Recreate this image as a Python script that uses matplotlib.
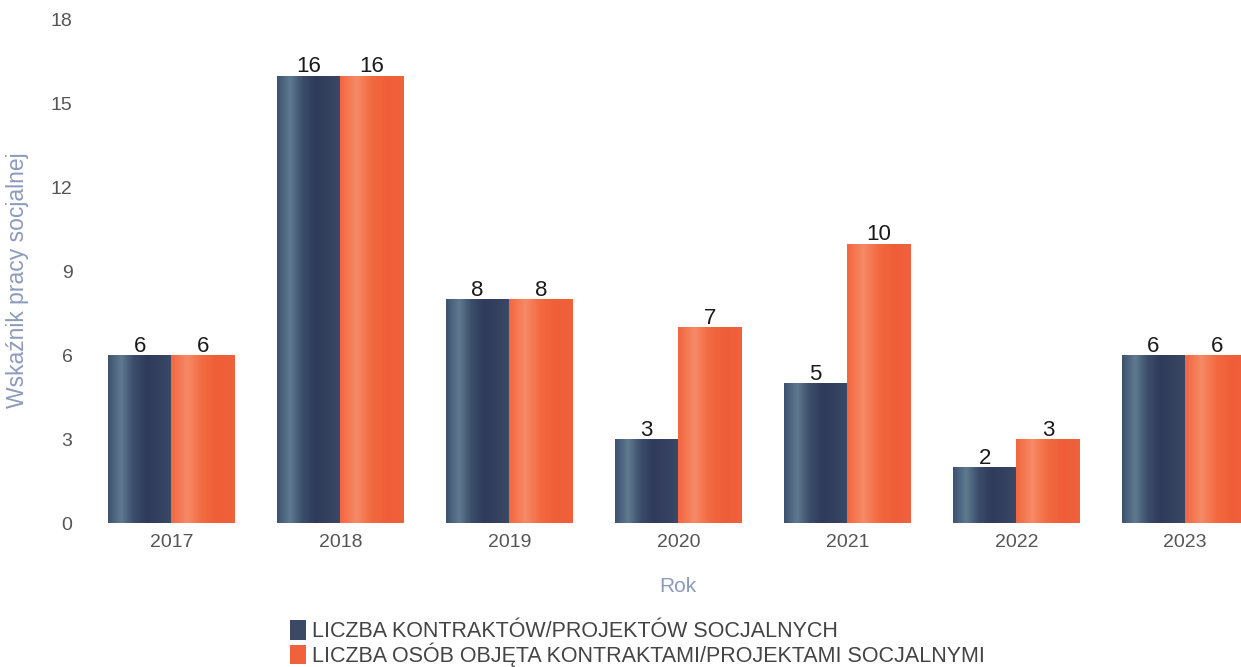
import matplotlib
matplotlib.use("Agg")
import matplotlib.pyplot as plt
import numpy as np
from matplotlib.colors import LinearSegmentedColormap
from matplotlib.patches import Patch

years = ["2017", "2018", "2019", "2020", "2021", "2022", "2023"]
kontrakty = [6, 16, 8, 3, 5, 2, 6]
osoby = [6, 16, 8, 7, 10, 3, 6]
series_names = ["LICZBA KONTRAKTÓW/PROJEKTÓW SOCJALNYCH",
                "LICZBA OSÓB OBJĘTA KONTRAKTAMI/PROJEKTAMI SOCJALNYMI"]
yticks = [0, 3, 6, 9, 12, 15, 18]

plt.rcParams['font.family'] = ['Liberation Sans', 'DejaVu Sans']

W, H = 1241, 667
fig = plt.figure(figsize=(W / 100, H / 100), dpi=100)
left_px, right_px, top_px, bottom_px = 92, 1241, 20, 523
ax = fig.add_axes([left_px / W, 1 - bottom_px / H, (right_px - left_px) / W, (bottom_px - top_px) / H])

dark = "#3a4a66"
orange = "#f1613c"
cmap_dark = LinearSegmentedColormap.from_list("d", ["#3d5270", "#5f7a90", "#3b4d6a", "#2f3b5a", "#34405e", "#3a4a66"])
cmap_or = LinearSegmentedColormap.from_list("o", ["#f2673f", "#f68a66", "#f26940", "#ef5e38", "#f0623c"])

x = np.arange(len(years))
w = 0.375
b1 = ax.bar(x - w / 2, kontrakty, w, color=dark, zorder=2)
b2 = ax.bar(x + w / 2, osoby, w, color=orange, zorder=2)

grad = np.linspace(0, 1, 100).reshape(1, -1)
for bars, cm in ((b1, cmap_dark), (b2, cmap_or)):
    for r in bars:
        x0, y0 = r.get_x(), r.get_y()
        im = ax.imshow(grad, cmap=cm, aspect='auto', extent=(x0, x0 + r.get_width(), y0, y0 + r.get_height()),
                       zorder=3)
        im.set_clip_path(r)

for bars, vals in ((b1, kontrakty), (b2, osoby)):
    for r, v in zip(bars, vals):
        ax.text(r.get_x() + r.get_width() / 2, v - 0.05, str(v), ha='center', va='bottom',
                fontsize=16, color="#1a1a1a", zorder=4)

ax.set_xlim(-0.47, 6.33)
ax.set_ylim(0, 18)
ax.set_yticks(yticks)
ax.set_xticks(x)
ax.set_xticklabels(years)
ax.tick_params(axis='both', length=0, labelsize=14, labelcolor="#555555")
ax.tick_params(axis='y', pad=14)
ax.tick_params(axis='x', pad=8)
for s in ax.spines.values():
    s.set_visible(False)

fig.text(18 / W, 1 - 280 / H, "Wskaźnik pracy socjalnej", rotation=90, ha='center', va='center',
         fontsize=16.5, color="#8c9bbb")
fig.text(678 / W, 1 - 587 / H, "Rok", ha='center', va='center', fontsize=15, color="#8c9bbb")

handles = [Patch(facecolor=dark), Patch(facecolor=orange)]
fig.legend(handles, series_names, loc='upper left', bbox_to_anchor=(290 / W, 1 - 620 / H),
           frameon=False, handlelength=0.75, handleheight=1.05, handletextpad=0.25, labelspacing=0.0,
           fontsize=15.5, labelcolor="#444444", borderpad=0, borderaxespad=0)

fig.savefig("out.png", dpi=100)
